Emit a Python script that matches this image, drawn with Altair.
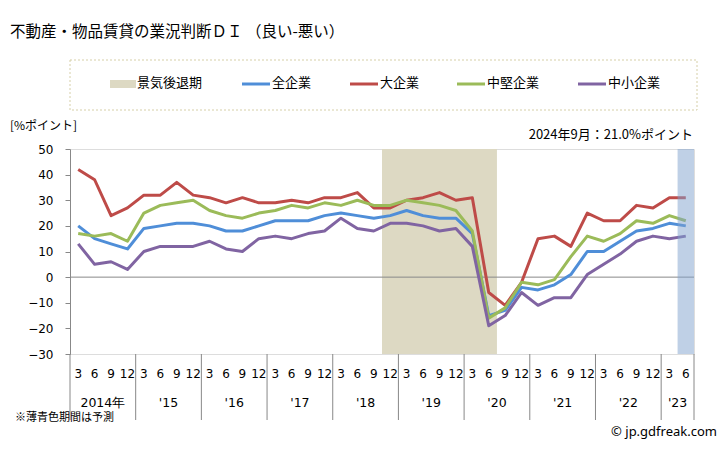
import altair as alt
import pandas as pd

# ---------------- data ----------------
months = ["3", "6", "9", "12"] * 9 + ["3", "6"]
years = ["2014年", "'15", "'16", "'17", "'18", "'19", "'20", "'21", "'22", "'23"]
year_sizes = [4, 4, 4, 4, 4, 4, 4, 4, 4, 2]

all_ent = [20, 15, 13, 11, 19, 20, 21, 21, 20, 18,
           18, 20, 22, 22, 22, 24, 25, 24, 23, 24,
           26, 24, 23, 23, 17, -15, -13, -4, -5, -3,
           1, 10, 10, 14, 18, 19, 21, 20]
large = [42, 38, 24, 27, 32, 32, 37, 32, 31, 29,
         31, 29, 29, 30, 29, 31, 31, 33, 27, 27,
         30, 31, 33, 30, 31, -6, -11, -2, 15, 16,
         12, 25, 22, 22, 28, 27, 31, 31]
mid = [17, 16, 17, 14, 25, 28, 29, 30, 26, 24,
       23, 25, 26, 28, 27, 29, 28, 30, 28, 28,
       30, 29, 28, 26, 18, -16, -12, -2, -3, -1,
       8, 16, 14, 17, 22, 21, 24, 22]
small = [13, 5, 6, 3, 10, 12, 12, 12, 14, 11,
         10, 15, 16, 15, 17, 18, 23, 19, 18, 21,
         21, 20, 18, 19, 12, -19, -15, -6, -11, -8,
         -8, 1, 5, 9, 14, 16, 15, 16]

series_names = ["全企業", "大企業", "中堅企業", "中小企業"]
series_values = [all_ent, large, mid, small]
series_colors = ["#4F8ED8", "#BE4B48", "#9BBB59", "#8064A2"]

recession_span = [19, 26]   # category index range (2018-12 .. 2020-6)
forecast_span = [37, 38]    # last category
y_ticks = [-30, -20, -10, 0, 10, 20, 30, 40, 50]

title_text = "不動産・物品賃貸の業況判断ＤＩ （良い-悪い）"
unit_text = "[%ポイント]"
latest_text = "2024年9月：21.0%ポイント"
note_text = "※薄青色期間は予測"
credit_text = "© jp.gdfreak.com"
recession_label = "景気後退期"

# ---------------- tables ----------------
n = len(months)
rows = []
for name, vals in zip(series_names, series_values):
    for i, v in enumerate(vals):
        rows.append({"pos": i + 0.5, "value": v, "series": name})
lines_df = pd.DataFrame(rows)

month_df = pd.DataFrame({"pos": [i + 0.5 for i in range(n)], "label": months})
starts = [sum(year_sizes[:k]) for k in range(len(years))]
year_df = pd.DataFrame({"pos": [s + sz / 2 for s, sz in zip(starts, year_sizes)],
                        "label": years})
sep_df = pd.DataFrame({"pos": starts + [n]})

W, H = 624, 205
JP = "Noto Sans CJK JP"
NUM = "DejaVu Sans"

xs = alt.Scale(domain=[0, n], nice=False, zero=False)
ys = alt.Scale(domain=[-30, 50], nice=False, zero=False)
yaxis = alt.Axis(values=y_ticks, title=None, grid=False, tickSize=5, labelPadding=12,
                 domainColor="#888888", tickColor="#888888", labelColor="#000000",
                 labelFont=NUM, labelFontSize=12)
one = pd.DataFrame({"a": [0]})

rec = alt.Chart(pd.DataFrame({"x": [recession_span[0]], "x2": [recession_span[1]]})).mark_rect(
    color="#DDD9C3").encode(
    x=alt.X("x:Q", scale=xs, axis=None), x2="x2:Q",
    y=alt.value(0), y2=alt.value(H))

zero = alt.Chart(pd.DataFrame({"value": [0]})).mark_rule(color="#888888", strokeWidth=1).encode(
    y=alt.Y("value:Q", scale=ys, axis=yaxis))

lines = alt.Chart(lines_df).mark_line(strokeWidth=3, strokeJoin="round").encode(
    x=alt.X("pos:Q", scale=xs, axis=None),
    y=alt.Y("value:Q", scale=ys, axis=yaxis),
    color=alt.Color("series:N", scale=alt.Scale(domain=series_names, range=series_colors),
                    legend=None),
    detail="series:N")

fc = alt.Chart(pd.DataFrame({"x": [forecast_span[0]], "x2": [forecast_span[1]]})).mark_rect(
    color="#7FA1CD", opacity=0.5).encode(
    x=alt.X("x:Q", scale=xs, axis=None), x2="x2:Q",
    y=alt.value(0), y2=alt.value(H))

seps = alt.Chart(sep_df).mark_rule(color="#888888", strokeWidth=1).encode(
    x=alt.X("pos:Q", scale=xs, axis=None), y=alt.value(H), y2=alt.value(H + 66))

mtext = alt.Chart(month_df).mark_text(font=NUM, fontSize=12, color="#000").encode(
    x=alt.X("pos:Q", scale=xs, axis=None), y=alt.value(H + 20), text="label:N")

ytext = alt.Chart(year_df).mark_text(font=NUM, fontSize=12.5, color="#000").encode(
    x=alt.X("pos:Q", scale=xs, axis=None), y=alt.value(H + 49), text="label:N")


def txt(s, x, y, size, align="left", font=JP, color="#000"):
    return alt.Chart(one).mark_text(
        text=s, align=align, baseline="middle", font=font, fontSize=size, color=color
    ).encode(x=alt.value(x), y=alt.value(y))


decor = [
    txt(title_text, -60, -117, 15.5),
    txt(unit_text, -60, -23, 12),
    txt(latest_text, 623, -14, 13, align="right"),
    txt(note_text, -55, 269, 11),
    txt(credit_text, 647, 283, 13, align="right", font="Noto Sans"),
]

legend_box = alt.Chart(one).mark_rect(
    fillOpacity=0, stroke="#D6CFA8", strokeWidth=1, strokeDash=[2, 2]).encode(
    x=alt.value(0), x2=alt.value(627), y=alt.value(-89), y2=alt.value(-39))
decor.append(legend_box)
decor.append(alt.Chart(one).mark_rect(color="#DDD9C3").encode(
    x=alt.value(40), x2=alt.value(66), y=alt.value(-69), y2=alt.value(-61)))
decor.append(txt(recession_label, 67, -66, 13))

leg_line_x = [172, 280, 387, 508]
for name, col, lx in zip(series_names, series_colors, leg_line_x):
    decor.append(alt.Chart(one).mark_rule(color=col, strokeWidth=3).encode(
        x=alt.value(lx), x2=alt.value(lx + 28), y=alt.value(-65)))
    decor.append(txt(name, lx + 30, -66, 13))

chart = alt.layer(rec, zero, lines, fc, seps, mtext, ytext, *decor).properties(
    width=W, height=H,
    autosize=alt.AutoSizeParams(type="none"),
    padding={"left": 62, "top": 141, "right": 24, "bottom": 88},
).configure_view(stroke="#999999", strokeWidth=1).configure(background="white")

chart.save("out.html", embed_options={"renderer": "svg", "actions": False})
